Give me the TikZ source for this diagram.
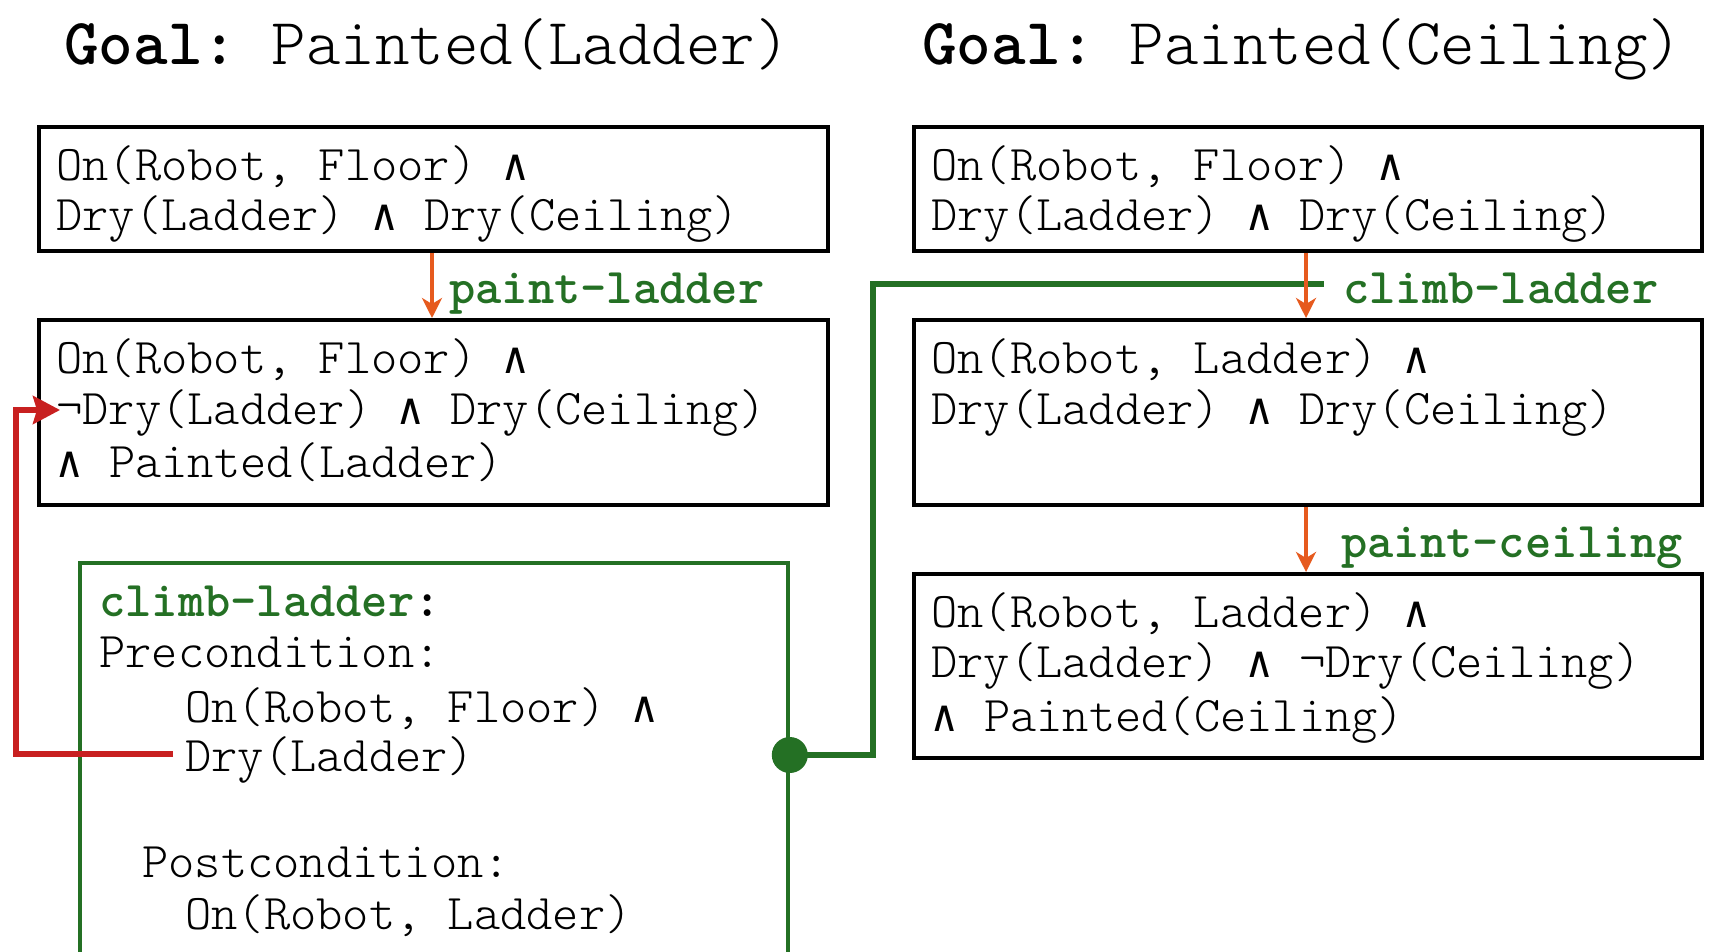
\documentclass[tikz,border=0pt]{standalone}
\usepackage{fontspec}
\setmonofont{Latin Modern Mono Light}
\newfontfamily\andfont{DejaVu Sans Mono}
\usetikzlibrary{arrows.meta}
\definecolor{dgreen}{RGB}{36,112,36}
\definecolor{orng}{RGB}{230,90,30}
\definecolor{rred}{RGB}{200,32,32}
\newcommand\wedgeop{{\andfont\fontsize{21.9pt}{26pt}\selectfont ∧}}
\begin{document}
\begin{tikzpicture}[x=0.5pt,y=-0.5pt,
  box/.style={draw=black,line width=2pt,inner sep=0pt,anchor=north west},
  gbox/.style={draw=dgreen,line width=1.9pt,inner sep=0pt,anchor=north west},
  txt/.style={anchor=base west,inner sep=0pt,font=\ttfamily\fontsize{25pt}{28pt}\selectfont},
  lbl/.style={anchor=base west,inner sep=0pt,font=\ttfamily\bfseries\fontsize{25pt}{28pt}\selectfont,text=dgreen},
  ttl/.style={anchor=base west,inner sep=0pt,font=\ttfamily\fontsize{32.9pt}{36pt}\selectfont},
  act/.style={draw=orng,line width=2pt,-{Stealth[length=10pt,width=10pt,inset=3pt]}},
  gline/.style={draw=dgreen,line width=3.2pt},
  rline/.style={draw=rred,line width=2.8pt,-{Stealth[length=13.5pt,width=14pt,inset=2pt]}},
]
\useasboundingbox (0,0) rectangle (1718,952);

% titles
\node[ttl] (t1) at (64,65) {\textbf{Goal:} Painted(Ladder)};
\node[ttl] (t2) at (922,65) {\textbf{Goal:} Painted(Ceiling)};

% boxes
\node[box,minimum width=394.5pt,minimum height=62pt] (L1) at (37,125) {};
\node[box,minimum width=394.5pt,minimum height=92.5pt] (L2) at (37,318) {};
\node[box,minimum width=394pt,minimum height=62pt] (R1) at (912,125) {};
\node[box,minimum width=394pt,minimum height=92.5pt] (R2) at (912,318) {};
\node[box,minimum width=394pt,minimum height=92pt] (R3) at (912,572) {};
\node[gbox,minimum width=354pt,minimum height=215pt] (G) at (78,561) {};

% left box texts
\node[txt] (l1a) at (56,181) {On(Robot, Floor) \wedgeop};
\node[txt] (l1b) at (56,231) {Dry(Ladder) \wedgeop{} Dry(Ceiling)};
\node[txt] (l2a) at (56,373) {On(Robot, Floor) \wedgeop};
\node[txt] (l2b) at (56,424) {¬Dry(Ladder) \wedgeop{} Dry(Ceiling)};
\node[txt] (l2c) at (56,477) {\wedgeop{} Painted(Ladder)};

% right box texts
\node[txt] (r1a) at (931,181) {On(Robot, Floor) \wedgeop};
\node[txt] (r1b) at (931,231) {Dry(Ladder) \wedgeop{} Dry(Ceiling)};
\node[txt] (r2a) at (931,373) {On(Robot, Ladder) \wedgeop};
\node[txt] (r2b) at (931,424) {Dry(Ladder) \wedgeop{} Dry(Ceiling)};
\node[txt] (r3a) at (931,627) {On(Robot, Ladder) \wedgeop};
\node[txt] (r3b) at (931,677) {Dry(Ladder) \wedgeop{} ¬Dry(Ceiling)};
\node[txt] (r3c) at (931,731) {\wedgeop{} Painted(Ceiling)};

% green box texts
\node[lbl] (g0) at (99,616) {climb-ladder\textcolor{black}{:}};
\node[txt] (g1) at (99,667) {Precondition:};
\node[txt] (g2) at (185,722) {On(Robot, Floor) \wedgeop};
\node[txt] (g3) at (185,771) {Dry(Ladder)};
\node[txt] (g4) at (142,877) {Postcondition:};
\node[txt] (g5) at (185,929) {On(Robot, Ladder)};

% action labels
\node[lbl] (pl) at (449,303) {paint-ladder};
\node[lbl] (cl) at (1343,303) {climb-ladder};
\node[lbl] (pc) at (1341,557) {paint-ceiling};

% green connector
\node[circle,fill=dgreen,minimum size=18pt,inner sep=0pt] (dot) at (G.east |- 0,755) {};
\coordinate (gc1) at (873,755);
\coordinate (gc2) at (873,284);
\coordinate (gend) at (1324,284);
\draw[gline] (dot.center) -- (gc1) -- (gc2) -- (gend);

% red connector
\coordinate (rs) at (173,754);
\coordinate (rc1) at (16,754);
\coordinate (rc2) at (16,410);
\coordinate (rt) at (60,410);
\draw[rline] (rs) -- (rc1) -- (rc2) -- (rt);

% action arrows
\coordinate (ax1) at (432,0);
\coordinate (ax2) at (1306,0);
\draw[act] (ax1 |- L1.south) -- (ax1 |- L2.north);
\draw[act] (ax2 |- R1.south) -- (ax2 |- R2.north);
\draw[act] (ax2 |- R2.south) -- (ax2 |- R3.north);
\end{tikzpicture}
\end{document}
